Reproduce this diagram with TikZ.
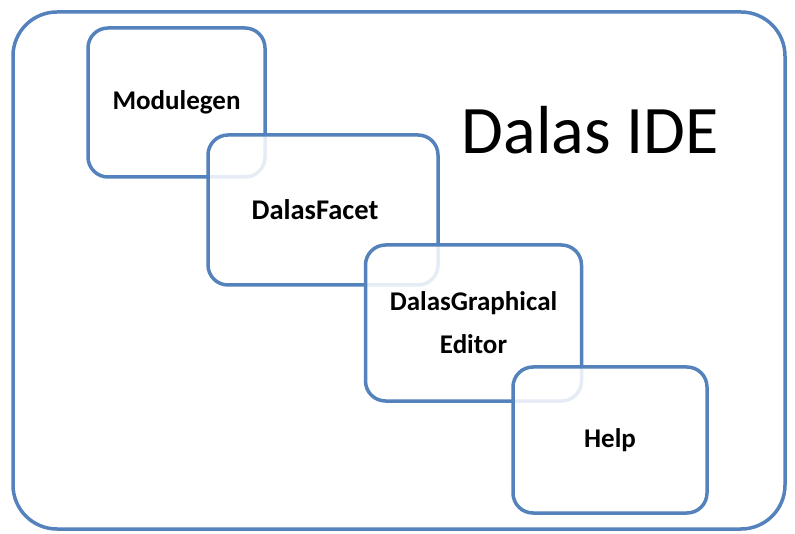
\documentclass[tikz,border=0pt]{standalone}
\usepackage{fontspec}
\setmainfont{Carlito}
\definecolor{boxblue}{RGB}{84,130,188}
\begin{document}
\begin{tikzpicture}[x=1pt,y=-1pt,
  panel/.style={draw=boxblue,line width=3.5pt,rounded corners=20pt,fill=white,fill opacity=0.85,text opacity=1,
    font=\bfseries\fontsize{27}{43}\selectfont,align=center,inner sep=0pt},
  frame/.style={draw=boxblue,line width=3.5pt,rounded corners=44pt}]
\useasboundingbox (0,0) rectangle (795,534);
\draw[frame] (13,12) rectangle (785,529);
\node[panel,minimum width=177pt,minimum height=149pt] (mod) at (176.5,102.5) {Modulegen};
\node[panel,minimum width=230pt,minimum height=150pt] (facet) at (323,210) {};
\node[font=\bfseries\fontsize{28.5}{43}\selectfont,inner sep=0pt] (facetlabel) at (315,210) {DalasFacet};
\node[panel,minimum width=216pt,minimum height=156pt] (graph) at (473.5,323) {DalasGraphical\\Editor};
\node[panel,minimum width=194pt,minimum height=146pt] (help) at (610,440) {Help};
\node[font=\fontsize{68}{80}\selectfont,inner sep=0pt] (title) at (590,130) {Dalas IDE};
\end{tikzpicture}
\end{document}
